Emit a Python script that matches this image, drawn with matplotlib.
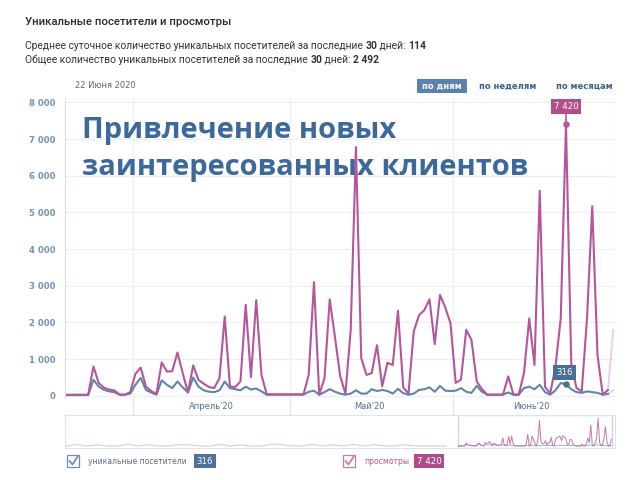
import numpy as np
import pandas as pd
import matplotlib
matplotlib.use("Agg")
import matplotlib.pyplot as plt
from matplotlib.patches import Rectangle

# --- data (daily, starting 19 March 2020) ---
start = "2020-03-19"
views = [30, 30, 30, 30, 30, 800, 350, 220, 170, 145,
         30, 30, 100, 600, 770, 250, 130, 50, 910, 660,
         670, 1180, 620, 90, 830, 435, 330, 240, 210, 480,
         2160, 250, 240, 390, 2480, 510, 2610, 570, 40, 40,
         40, 40, 40, 40, 40, 40, 570, 3100, 30, 480,
         2630, 1600, 530, 60, 1800, 6780, 1030, 570, 620, 1380,
         260, 900, 840, 2320, 230, 60, 1750, 2200, 2330, 2630,
         1410, 2750, 2410, 1980, 350, 440, 1800, 1520, 390, 180,
         30, 30, 30, 30, 530, 30, 30, 620, 2110, 840,
         5590, 240, 70, 800, 2110, 7420, 890, 210, 120, 2100,
         5170, 1110, 30, 160, 1800]
visitors = [20, 20, 20, 20, 20, 435, 250, 160, 120, 100,
            30, 30, 60, 300, 490, 160, 90, 30, 420, 300,
            210, 390, 230, 90, 500, 250, 150, 110, 100, 150,
            390, 210, 180, 150, 250, 170, 200, 120, 30, 30,
            30, 30, 30, 30, 30, 30, 110, 140, 30, 100,
            180, 110, 60, 30, 60, 150, 60, 60, 180, 130,
            160, 130, 60, 190, 70, 30, 60, 160, 180, 230,
            110, 270, 140, 130, 140, 210, 110, 80, 270, 110,
            30, 30, 30, 30, 90, 30, 30, 210, 250, 180,
            300, 100, 30, 150, 350, 316, 180, 100, 80, 120,
            100, 80, 30, 50, 150]
# weekly views before the selected period (navigator only)
earlier_start = "2019-06-26"
views_earlier = [0, 400, 0, 300, 0, 0, 500, 0, 350, 0,
                 0, 400, 300, 0, 0, 450, 0, 300, 0, 0,
                 500, 350, 0, 0, 400, 0, 300, 0, 450, 0,
                 350, 0, 0, 300, 0, 0, 0, 0]

months = ["2020-04-01", "2020-05-01", "2020-06-01"]
month_labels = ["Апрель'20", "Май'20", "Июнь'20"]
yticks = [0, 1000, 2000, 3000, 4000, 5000, 6000, 7000, 8000]
hover_day = 95

PINK = "#b6569a"
BLUE = "#6085ad"
W, H = 640, 480


def fx(px):
    return px / W


def fy(py):
    return 1 - py / H


dates = pd.date_range(start, periods=len(views), freq="D") + pd.Timedelta(hours=12)
x0 = pd.Timestamp(start) + pd.Timedelta(hours=2)
x1 = pd.Timestamp("2020-07-01") + pd.Timedelta(hours=20)

fig = plt.figure(figsize=(6.4, 4.8), dpi=100)
fig.patch.set_facecolor("white")

# --- header ---
fig.text(fx(25), fy(22), "Уникальные посетители и просмотры", family="Roboto",
         fontsize=8.2, fontweight="medium", color="#2b2b2b", va="center")

renderer = fig.canvas.get_renderer()


def rich(x, y, parts, size=7.4, color="#333333"):
    for s, w in parts:
        t = fig.text(x, y, s, family="Roboto", fontsize=size, fontweight=w,
                     color=color, va="center")
        bb = t.get_window_extent(renderer=renderer)
        x += bb.width / fig.bbox.width


rich(fx(25), fy(46), [("Среднее суточное количество уникальных посетителей за последние ", "normal"),
                      ("30", "bold"), (" дней: ", "normal"), ("114", "bold")])
rich(fx(25), fy(60), [("Общее количество уникальных посетителей за последние ", "normal"),
                      ("30", "bold"), (" дней: ", "normal"), ("2 492", "bold")])

fig.text(fx(75), fy(85), "22 Июня 2020", family="DejaVu Sans", fontsize=6.0,
         color="#666666", va="center")

# period buttons
fig.patches.append(Rectangle((fx(417), fy(93)), fx(50), 14 / H, transform=fig.transFigure,
                             facecolor="#5b82ae", edgecolor="none"))
fig.text(fx(442), fy(86), "по дням", family="DejaVu Sans", fontsize=6.0,
         fontweight="bold", color="white", ha="center", va="center")
fig.text(fx(508), fy(86), "по неделям", family="DejaVu Sans", fontsize=6.0,
         fontweight="bold", color="#3b6190", ha="center", va="center")
fig.text(fx(584), fy(86), "по месяцам", family="DejaVu Sans", fontsize=6.0,
         fontweight="bold", color="#3b6190", ha="center", va="center")

# --- main chart ---
ax = fig.add_axes([fx(65), fy(398), fx(550), (398 - 98) / H])
ax.set_xlim(x0, x1)
ax.set_ylim(-60, 8120)
ax.set_yticks(yticks)
ax.set_yticklabels([f"{v:,}".replace(",", " ") for v in yticks])
ax.tick_params(axis="y", length=0, labelsize=6.1, labelcolor="#7590b0", pad=7)
for lab in ax.get_yticklabels():
    lab.set_fontweight("bold")
ax.set_xticks([])
for s in ["top", "right", "bottom"]:
    ax.spines[s].set_visible(False)
ax.spines["left"].set_color("#d5dde6")
ax.grid(axis="y", color="#eceff3", lw=0.9)
for m in months:
    ax.axvline(pd.Timestamp(m), color="#eceff3", lw=0.9, zorder=0)
ax.axvline(x1, color="#eceff3", lw=0.9, zorder=0)

n = len(views) - 1
ax.plot(dates[:n], visitors[:n], color=BLUE, lw=1.5, zorder=3, solid_joinstyle="round")
ax.plot(dates[:n], views[:n], color=PINK, lw=1.5, zorder=4, solid_joinstyle="round")
ax.plot(dates[n - 1:], views[n - 1:], color=PINK, lw=1.3, alpha=0.3, zorder=4, clip_on=False)
ax.plot(dates[n - 1:], visitors[n - 1:], color=BLUE, lw=1.3, alpha=0.3, zorder=3, clip_on=False)

# hover markers and labels
hx = dates[hover_day]
hv = views[hover_day]
hu = visitors[hover_day]
ax.plot([hx], [hv], "o", color=PINK, ms=3.6, zorder=5)
ax.plot([hx], [hu], "o", color="#4a6e96", ms=3.6, zorder=5)
ax.annotate(f"{hv:,}".replace(",", " "), (hx, hv), xytext=(0, 9), textcoords="offset points",
            ha="center", va="bottom", fontsize=6.2, color="white", family="DejaVu Sans",
            bbox=dict(boxstyle="square,pad=0.35", fc="#b44d8c", ec="none"),
            arrowprops=dict(arrowstyle="-", color=PINK, lw=1.2, shrinkA=0, shrinkB=0), zorder=6)
ax.annotate(f"{hu}", (hx, hu), xytext=(-1, 5), textcoords="offset points",
            ha="center", va="bottom", fontsize=6.2, color="white", family="DejaVu Sans",
            bbox=dict(boxstyle="square,pad=0.35", fc="#4a6e96", ec="none"), zorder=6)

# overlay caption
fig.text(fx(82), fy(138), "Привлечение новых", family="Open Sans", fontsize=21,
         fontweight="bold", color="#3d689b", va="baseline")
fig.text(fx(82), fy(175), "заинтересованных клиентов", family="Open Sans", fontsize=21,
         fontweight="bold", color="#3d689b", va="baseline")

# --- month label row ---
axr = fig.add_axes([fx(65), fy(416), fx(550), 18 / H], sharex=ax)
axr.set_ylim(0, 1)
axr.axis("off")
for m, lab in zip(months, month_labels):
    mt = pd.Timestamp(m)
    axr.axvline(mt, color="#e3e7ec", lw=0.9)
    axr.text(mt + pd.Timedelta(days=15), 0.55, lab, ha="center", va="center",
             fontsize=6.0, color="#4d6f98", family="DejaVu Sans")
axr.axvline(x1, color="#e3e7ec", lw=0.9)
ax.set_xlim(x0, x1)

# --- navigator ---
axn = fig.add_axes([fx(65), fy(448), fx(550), 33 / H])
nav0 = pd.Timestamp("2019-06-25")
nav1 = pd.Timestamp("2020-07-04")
axn.set_xlim(nav0, nav1)
axn.set_ylim(-530, 8215)
axn.set_xticks([])
axn.set_yticks([])
for s in axn.spines.values():
    s.set_color("#dfe4ea")
edates = pd.date_range(earlier_start, periods=len(views_earlier), freq="7D")
axn.plot(edates, views_earlier, color=PINK, lw=0.8, alpha=0.35)
axn.add_patch(Rectangle((pd.Timestamp(start), -530), pd.Timestamp("2020-07-02") - pd.Timestamp(start),
                        8745, facecolor="white", edgecolor="#c9d5e2", lw=0.9, zorder=2))
axn.plot(dates, visitors, color=BLUE, lw=0.7, alpha=0.6, zorder=3)
axn.plot(dates, views, color=PINK, lw=0.7, alpha=0.8, zorder=4)

# --- legend ---


def checkbox(px, py, color):
    fig.patches.append(Rectangle((fx(px), fy(py + 12)), fx(12), 12 / H, transform=fig.transFigure,
                                 facecolor="white", edgecolor=color, lw=0.9))
    fig.lines.append(plt.Line2D([fx(px + 2.5), fx(px + 5.5), fx(px + 11)],
                                [fy(py + 6), fy(py + 9.5), fy(py + 1)],
                                transform=fig.transFigure, color=color, lw=1.3))


checkbox(67, 455, "#6f8fb3")
fig.text(fx(88), fy(461), "уникальные посетители", family="DejaVu Sans", fontsize=5.5,
         color="#5d6f84", va="center")
fig.text(fx(205), fy(461), "316", family="DejaVu Sans", fontsize=6.2, color="white",
         ha="center", va="center", bbox=dict(boxstyle="square,pad=0.3", fc="#4f7199", ec="none"))
checkbox(343, 455, "#c67cab")
fig.text(fx(364), fy(461), "просмотры", family="DejaVu Sans", fontsize=5.6,
         color="#b4588f", va="center")
fig.text(fx(429), fy(461), "7 420", family="DejaVu Sans", fontsize=6.2, color="white",
         ha="center", va="center", bbox=dict(boxstyle="square,pad=0.3", fc="#ac4c88", ec="none"))

fig.savefig("out.png", dpi=100, facecolor="white")
